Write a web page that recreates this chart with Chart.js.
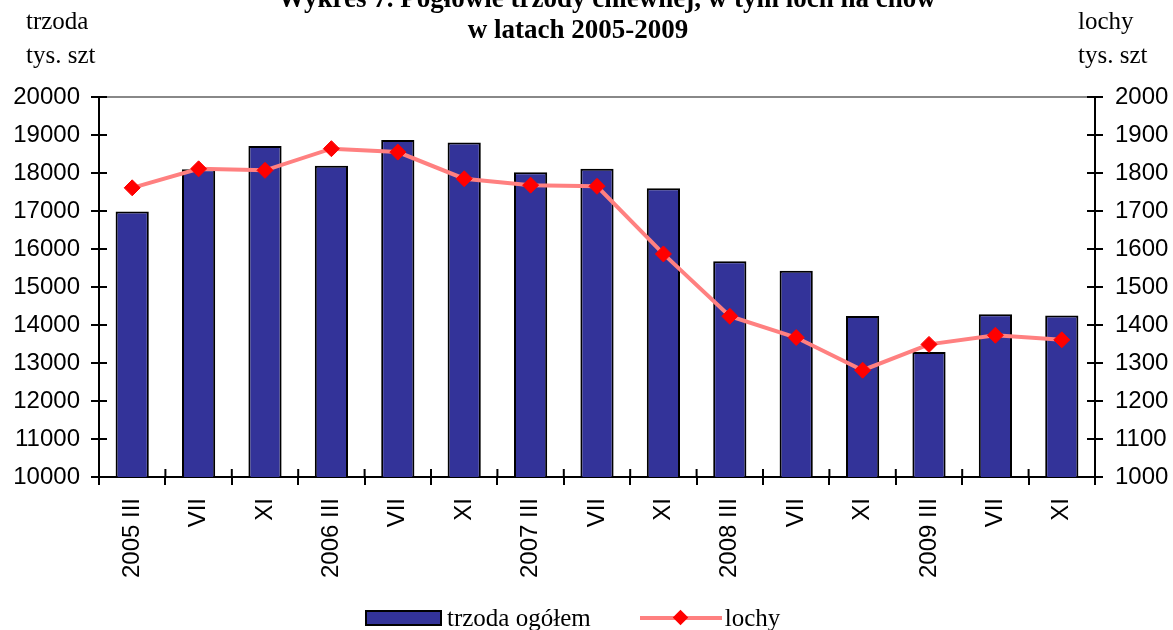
<!DOCTYPE html>
<html>
<head>
<meta charset="utf-8">
<script src="https://cdn.jsdelivr.net/npm/chart.js@4.4.0/dist/chart.umd.min.js"></script>
<style>
  body { margin: 0; background: #fff; }
  #wrap { position: relative; width: 1173px; height: 630px; overflow: hidden; font-family: "Liberation Serif", "Times New Roman", serif; color: #000; }
  #chart { position: absolute; left: 0; top: 0; }
  .title { position: absolute; top: -17px; left: 278px; width: 600px; text-align: center; font-weight: bold; font-size: 27px; line-height: 31px; white-space: nowrap; }
  .unit { position: absolute; top: 4px; font-size: 25px; line-height: 34px; }
  #legend { position: absolute; left: 365px; top: 605px; height: 25px; display: flex; align-items: center; font-size: 25px; line-height: 25px; white-space: nowrap; }
  .swatch-bar { width: 73px; height: 12px; border: 2px solid #000; margin-right: 5px; }
  .swatch-line { position: relative; width: 82px; height: 4px; margin: 0 3px 0 49px; }
  .swatch-line i { position: absolute; left: 35px; top: -4px; width: 11px; height: 11px; transform: rotate(45deg); }
</style>
</head>
<body>
<div id="wrap">
  <canvas id="chart" width="1173" height="630"></canvas>
  <div class="title">Wykres 7. Pogłowie trzody chlewnej, w tym loch na chów<br>w latach 2005-2009</div>
  <div class="unit" style="left:26px">trzoda<br>tys. szt</div>
  <div class="unit" style="left:1078px">lochy<br>tys. szt</div>
  <div id="legend"></div>
</div>
<script>
const labels = ["2005 III", "VII", "XI", "2006 III", "VII", "XI", "2007 III", "VII", "XI",
                "2008 III", "VII", "XI", "2009 III", "VII", "XI"];
const trzoda = [16990, 18100, 18710, 18190, 18870, 18800, 18020, 18110, 17600,
                15680, 15430, 14240, 13290, 14280, 14250];
const lochy = [1761, 1811, 1807, 1864, 1855, 1785, 1768, 1765, 1587,
               1423, 1367, 1281, 1349, 1373, 1361];
const leftRange = [10000, 20000, 1000];
const rightRange = [1000, 2000, 100];

const barColor = "#333399";
const lineColor = "#FF8080";
const markerColor = "#FF0000";
const axisFont = { family: "'Liberation Sans', Arial, sans-serif", size: 24 };
const plain = (v) => String(v);

// ticks crossing the axes (inner half)
const innerTicks = {
    id: "innerTicks",
    afterDraw(chart) {
        const { ctx, scales: { x, y, y1 } } = chart;
        ctx.save();
        ctx.strokeStyle = "#000";
        ctx.lineWidth = 2;
        ctx.beginPath();
        y.ticks.forEach((t, i) => {
            const py = y.getPixelForTick(i);
            ctx.moveTo(y.right, py);
            ctx.lineTo(y.right + 8, py);
        });
        y1.ticks.forEach((t, i) => {
            const py = y1.getPixelForTick(i);
            ctx.moveTo(y1.left - 8, py);
            ctx.lineTo(y1.left, py);
        });
        for (let i = 0; i <= labels.length; i++) {
            const px = x.getPixelForValue(i - 0.5);
            ctx.moveTo(px, x.top - 8);
            ctx.lineTo(px, x.top);
        }
        ctx.stroke();
        ctx.restore();
    }
};

const chart = new Chart(document.getElementById("chart").getContext("2d"), {
    type: "bar",
    data: {
        labels: labels,
        datasets: [{
            type: "line",
            label: "lochy",
            data: lochy,
            yAxisID: "y1",
            borderColor: lineColor,
            borderWidth: 4,
            tension: 0,
            pointStyle: "rectRot",
            pointRadius: 8,
            pointBackgroundColor: markerColor,
            pointBorderColor: markerColor,
            pointBorderWidth: 1,
            order: 0,
        }, {
            label: "trzoda ogółem",
            data: trzoda,
            yAxisID: "y",
            backgroundColor: barColor,
            borderColor: "#000",
            borderWidth: 2,
            barPercentage: 0.5,
            categoryPercentage: 1.0,
            order: 1,
        }],
    },
    options: {
        responsive: false,
        animation: false,
        layout: { padding: { left: 13, right: 5, top: 97, bottom: 52 } },
        plugins: {
            legend: { display: false },
            tooltip: { enabled: false },
        },
        scales: {
            x: {
                grid: { offset: true, drawOnChartArea: false, tickLength: 8, color: "#000", lineWidth: 2 },
                border: { color: "#000", width: 2 },
                ticks: { autoSkip: false, maxRotation: 90, minRotation: 90, padding: 13, color: "#000", font: axisFont },
                afterFit(s) { s.height = 101; },
            },
            y: {
                position: "left",
                min: leftRange[0],
                max: leftRange[1],
                ticks: { stepSize: leftRange[2], padding: 11, color: "#000", font: axisFont, callback: plain },
                grid: {
                    color: (c) => c.tick && c.tick.value === leftRange[1] ? "#888" : "rgba(0,0,0,0)",
                    tickColor: "#000",
                    tickLength: 8,
                    lineWidth: 2,
                },
                border: { color: "#000", width: 2 },
                afterFit(s) { s.width = 86; },
            },
            y1: {
                position: "right",
                min: rightRange[0],
                max: rightRange[1],
                ticks: { stepSize: rightRange[2], padding: 12, color: "#000", font: axisFont, callback: plain },
                grid: { drawOnChartArea: false, color: "#000", tickLength: 8, lineWidth: 2 },
                border: { color: "#000", width: 2 },
                afterFit(s) { s.width = 73; },
            },
        },
    },
    plugins: [innerTicks],
});

// legend built from the datasets
const legend = document.getElementById("legend");
const barDs = chart.data.datasets[1];
const lineDs = chart.data.datasets[0];
legend.innerHTML =
    '<span class="swatch-bar" style="background:' + barDs.backgroundColor + '"></span>' +
    "<span>" + barDs.label + "</span>" +
    '<span class="swatch-line" style="background:' + lineDs.borderColor + '"><i style="background:' +
    lineDs.pointBackgroundColor + '"></i></span>' +
    "<span>" + lineDs.label + "</span>";
</script>
</body>
</html>
